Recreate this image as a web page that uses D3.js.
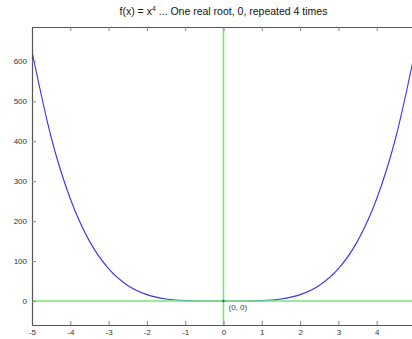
<!DOCTYPE html>
<html>
<head>
<meta charset="utf-8">
<script src="https://cdn.jsdelivr.net/npm/d3@7"></script>
<style>
  body { margin: 0; background: #fff; }
  svg { display: block; }
  text { font-family: "Liberation Sans", Helvetica, Arial, sans-serif; }
</style>
</head>
<body>
<div id="chart"></div>
<script>
// values
var xValues = [-5, -4.5, -4, -3.5, -3, -2.5, -2, -1.5, -1, -0.5, 0, 0.5, 1, 1.5, 2, 2.5, 3, 3.5, 4, 4.5, 5];
var yValues = [625, 410, 256, 150, 81, 39, 16, 5, 1, 0.06, 0, 0.06, 1, 5, 16, 39, 81, 150, 256, 410, 625];
var xTicks = [-5, -4, -3, -2, -1, 0, 1, 2, 3, 4];
var yTicks = [0, 100, 200, 300, 400, 500, 600];
var titleMain = 'f(x) = x';
var titleSup = '4';
var titleRest = ' ... One real root, 0, repeated 4 times';
var rootLabel = '(0, 0)';

var width = 412, height = 339;
var margin = { top: 27, right: -3, bottom: 14, left: 32 };
var w = width - margin.left - margin.right;
var h = height - margin.top - margin.bottom;

var svg = d3.select('#chart')
    .append('svg')
    .attr('width', width)
    .attr('height', height);

var g = svg.append('g')
    .attr('transform', 'translate(' + margin.left + ', ' + margin.top + ')');

var x = d3.scaleLinear().domain([-5, 5]).range([0, w]);
var y = d3.scaleLinear().domain([-60, 686]).range([h, 0]);

g.append('clipPath')
    .attr('id', 'clip')
    .append('rect')
    .attr('width', w)
    .attr('height', h);

var points = xValues.map((d, i) => ({ x: d, y: yValues[i] }));

var line = d3.line()
    .x(d => x(d.x))
    .y(d => y(d.y))
    .curve(d3.curveMonotoneX);

g.append('path')
    .datum(points)
    .attr('clip-path', 'url(#clip)')
    .attr('fill', 'none')
    .attr('stroke', '#3535e8')
    .attr('stroke-width', 1.1)
    .attr('d', line);

// green reference lines
g.append('line')
    .attr('x1', 0)
    .attr('x2', w)
    .attr('y1', y(0))
    .attr('y2', y(0))
    .attr('stroke', '#74e874')
    .attr('stroke-width', 1.5);

g.append('line')
    .attr('x1', x(0))
    .attr('x2', x(0))
    .attr('y1', 0)
    .attr('y2', h)
    .attr('stroke', '#74e874')
    .attr('stroke-width', 1.5);

g.append('circle')
    .attr('cx', x(0))
    .attr('cy', y(0))
    .attr('r', 1.2)
    .attr('fill', '#2a6a4a');

g.append('text')
    .attr('x', x(0) + 5)
    .attr('y', y(0) + 7)
    .attr('dominant-baseline', 'middle')
    .attr('font-size', '8px')
    .attr('fill', '#444')
    .text(rootLabel);

// axes, inward ticks like the original
var fmt = d => String(d);
var xAxis = d3.axisBottom(x).tickValues(xTicks).tickSizeInner(-4).tickSizeOuter(0).tickPadding(4).tickFormat(fmt);
var xAxisTop = d3.axisTop(x).tickValues(xTicks).tickSizeInner(-4).tickSizeOuter(0).tickFormat('');
var yAxis = d3.axisLeft(y).tickValues(yTicks).tickSizeInner(-4).tickSizeOuter(0).tickPadding(5).tickFormat(fmt);

var gx = g.append('g')
    .attr('transform', 'translate(0, ' + h + ')')
    .call(xAxis);

var gxt = g.append('g')
    .call(xAxisTop);

var gy = g.append('g')
    .call(yAxis);

[gx, gxt, gy].forEach(function(a) {
    a.select('.domain').attr('stroke', '#555').attr('stroke-width', 1.2);
    a.selectAll('.tick line').attr('stroke', '#888');
    a.selectAll('.tick text')
        .attr('font-family', '"Liberation Sans", Helvetica, Arial, sans-serif')
        .attr('font-size', '8px')
        .attr('fill', '#333');
});

var title = svg.append('text')
    .attr('x', margin.left + x(0))
    .attr('y', 15)
    .attr('text-anchor', 'middle')
    .attr('font-size', '10.5px')
    .attr('fill', '#111');

title.append('tspan').text(titleMain);
title.append('tspan').attr('dy', -4).attr('font-size', '7px').text(titleSup);
title.append('tspan').attr('dy', 4).text(titleRest);
</script>
</body>
</html>
